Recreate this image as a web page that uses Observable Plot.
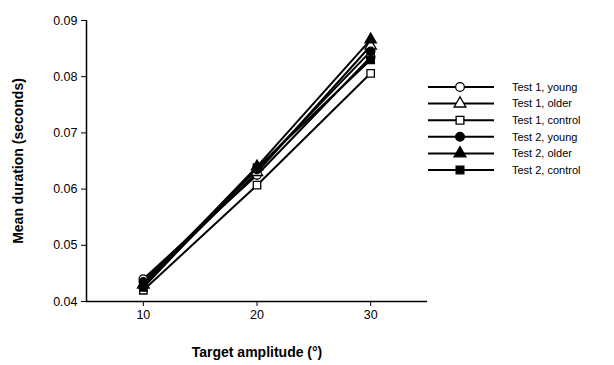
<!DOCTYPE html>
<html>
<head>
<meta charset="utf-8">
<script src="https://cdn.jsdelivr.net/npm/d3@7"></script>
<script src="https://cdn.jsdelivr.net/npm/@observablehq/plot@0.6"></script>
<style>
  html, body { margin: 0; padding: 0; background: #fff; }
  #wrap { position: relative; width: 614px; height: 365px; font-family: "Liberation Sans", Arial, sans-serif; }
  #legend { position: absolute; left: 0; top: 0; }
</style>
</head>
<body>
<div id="wrap"></div>
<script>
const amplitudes = [10, 20, 30];
const seriesNames = ["Test 1, young", "Test 1, older", "Test 1, control", "Test 2, young", "Test 2, older", "Test 2, control"];
const test1Young   = [0.0440, 0.0625, 0.0835];
const test1Older   = [0.0430, 0.0630, 0.0855];
const test1Control = [0.0420, 0.0607, 0.0806];
const test2Young   = [0.0435, 0.0635, 0.0845];
const test2Older   = [0.0430, 0.0640, 0.0866];
const test2Control = [0.0425, 0.0638, 0.0830];
const yTicks = [0.04, 0.05, 0.06, 0.07, 0.08, 0.09];
const xTicks = [10, 20, 30];

const seriesValues = [test1Young, test1Older, test1Control, test2Young, test2Older, test2Control];
const symbols = ["circle", "triangle", "square", "circle", "triangle", "square"];
const fills = ["white", "white", "white", "black", "black", "black"];

const data = [];
seriesNames.forEach((name, i) => {
  amplitudes.forEach((a, j) => data.push({series: name, amp: a, value: seriesValues[i][j], sym: symbols[i], fill: fills[i]}));
});

const font = '"Liberation Sans", Arial, sans-serif';
const chart = Plot.plot({
  width: 614,
  height: 365,
  marginLeft: 86,
  marginRight: 187,
  marginTop: 20,
  marginBottom: 64,
  style: {fontFamily: font, fontSize: "12px", color: "black", background: "white"},
  x: {domain: [5, 35], ticks: xTicks, label: null},
  y: {domain: [0.04, 0.09], ticks: yTicks, label: null},
  symbol: {domain: ["circle", "triangle", "square"], range: ["circle", "triangle", "square"]},
  marks: [
    Plot.axisX({ticks: xTicks, tickSize: 5, tickPadding: 4, fontSize: 12.5, label: null, tickFormat: d => String(d)}),
    Plot.axisY({ticks: yTicks, tickSize: 5, tickPadding: 4, fontSize: 12.5, label: null, tickFormat: d3.format(".2f")}),
    Plot.ruleY([0.04], {stroke: "black", strokeWidth: 1.5}),
    Plot.ruleX([5], {stroke: "black", strokeWidth: 1.5}),
    Plot.line(data, {x: "amp", y: "value", z: "series", stroke: "black", strokeWidth: 2}),
    Plot.dot(data, {x: "amp", y: "value", symbol: "sym", fill: "fill", stroke: "black", strokeWidth: 1.3, r: 4.2}),
    Plot.text(["Target amplitude (°)"], {frameAnchor: "bottom", dy: 55, fontSize: 14, fontWeight: "bold", fill: "black", textAnchor: "middle"}),
    Plot.text(["Mean duration (seconds)"], {frameAnchor: "left", dx: -68, rotate: -90, fontSize: 14, fontWeight: "bold", fill: "black", textAnchor: "middle"})
  ]
});
document.getElementById("wrap").appendChild(chart);

// Legend
const legend = d3.select("#wrap").append("svg")
  .attr("id", "legend").attr("width", 614).attr("height", 365);
const sym = {circle: d3.symbolCircle, triangle: d3.symbolTriangle, square: d3.symbolSquare};
seriesNames.forEach((name, i) => {
  const y = 87 + i * 16.6;
  const g = legend.append("g").attr("transform", `translate(0,${y})`);
  g.append("line").attr("x1", 428).attr("x2", 494).attr("y1", 0).attr("y2", 0)
    .attr("stroke", "black").attr("stroke-width", 2);
  g.append("path").attr("d", d3.symbol(sym[symbols[i]], 60)())
    .attr("transform", "translate(460,0)")
    .attr("fill", fills[i]).attr("stroke", "black").attr("stroke-width", 1.3);
  g.append("text").attr("x", 512).attr("y", 0).attr("dy", "0.35em")
    .attr("font-family", font).attr("font-size", 11).text(name);
});
</script>
</body>
</html>
